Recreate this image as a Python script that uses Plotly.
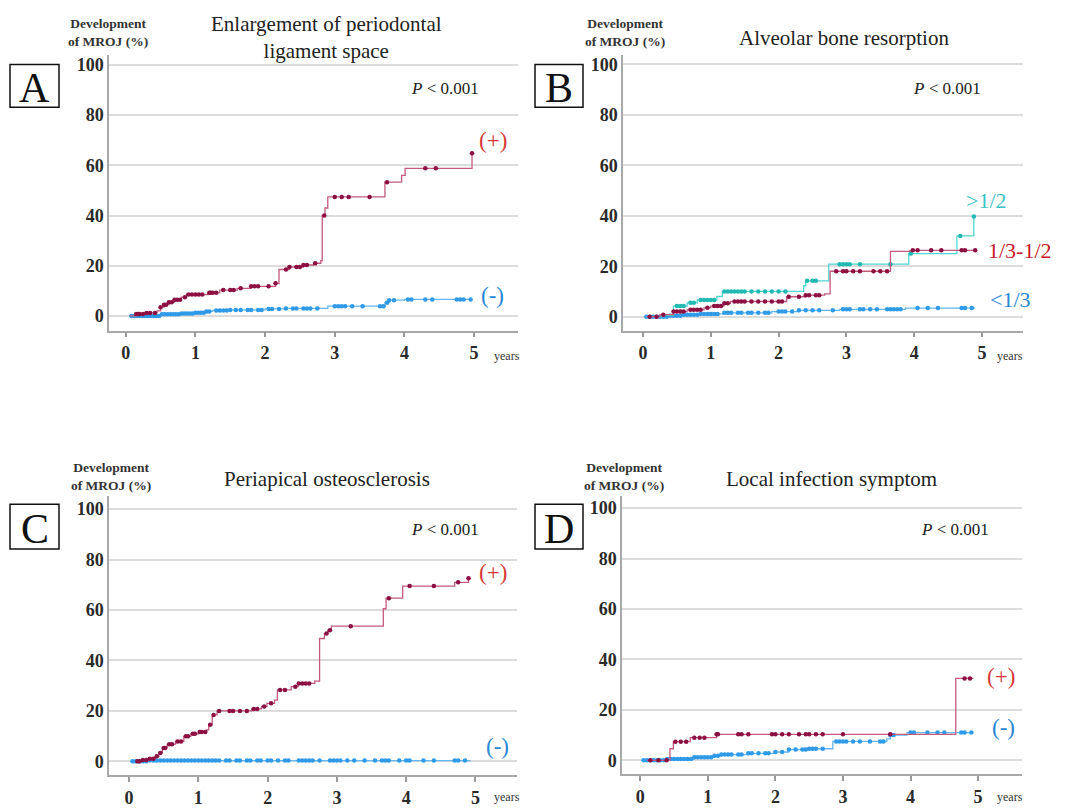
import numpy as np
import plotly.graph_objects as go

W, H = 1069, 808

# ---------------- data (cumulative incidence, %) ----------------
# Panel A: Enlargement of periodontal ligament space
A_pos_t = [0.06, 0.15, 0.3, 0.45, 0.5, 0.55, 0.62, 0.7, 0.8, 0.87, 1.18, 1.35, 1.6, 1.8, 2.15, 2.2, 2.35, 2.55, 2.7, 2.8, 2.82, 2.86, 2.9, 3.72, 3.96, 4.01, 4.97]
A_pos_v = [0, 0.8, 1.2, 2.0, 3.5, 4.5, 5.5, 6.5, 7.5, 8.5, 9.2, 10.3, 11.0, 11.8, 13.0, 18.5, 19.5, 20.3, 21.0, 22.0, 40.0, 43.0, 47.4, 53.3, 56.0, 58.8, 64.8]
A_pos_end = 4.97
A_pos_c = [0.15, 0.18, 0.2, 0.25, 0.3, 0.35, 0.42, 0.5, 0.55, 0.58, 0.62, 0.66, 0.7, 0.74, 0.78, 0.85, 0.9, 0.95, 1.0, 1.05, 1.1, 1.2, 1.22, 1.25, 1.3, 1.4, 1.5, 1.55, 1.65, 1.8, 1.85, 1.9, 2.05, 2.15, 2.3, 2.35, 2.45, 2.5, 2.55, 2.6, 2.72, 2.85, 3.0, 3.1, 3.2, 3.5, 3.75, 4.3, 4.45, 4.97]
A_neg_t = [0.06, 0.5, 0.8, 1.0, 1.15, 1.25, 1.5, 2.0, 2.3, 2.9, 3.72, 3.78, 4.0]
A_neg_v = [0, 0.7, 1.0, 1.3, 1.8, 2.2, 2.4, 2.8, 3.0, 3.9, 5.3, 6.3, 6.6]
A_neg_end = 4.97
A_neg_c = [0.08, 0.12, 0.16, 0.2, 0.24, 0.28, 0.32, 0.36, 0.4, 0.44, 0.48, 0.52, 0.56, 0.6, 0.64, 0.68, 0.72, 0.76, 0.8, 0.84, 0.88, 0.92, 0.96, 1.0, 1.04, 1.08, 1.12, 1.16, 1.2, 1.3, 1.35, 1.4, 1.45, 1.5, 1.58, 1.65, 1.75, 1.8, 1.9, 1.95, 2.05, 2.1, 2.2, 2.3, 2.4, 2.45, 2.55, 2.6, 2.65, 2.75, 3.0, 3.05, 3.1, 3.15, 3.25, 3.4, 3.65, 3.7, 3.75, 3.78, 3.85, 4.05, 4.1, 4.3, 4.4, 4.75, 4.8, 4.85, 4.95]

# Panel B: Alveolar bone resorption
B_hi_t = [0.05, 0.3, 0.45, 0.65, 0.8, 1.09, 1.17, 2.37, 2.4, 2.74, 3.92, 4.63, 4.88]
B_hi_v = [0, 0.5, 4.2, 5.5, 6.6, 8.0, 10.0, 12.3, 14.2, 20.8, 25.0, 32.0, 39.7]
B_hi_end = 4.88
B_hi_c = [0.5, 0.55, 0.6, 0.7, 0.75, 0.85, 0.9, 0.95, 1.0, 1.05, 1.2, 1.25, 1.3, 1.35, 1.4, 1.45, 1.5, 1.6, 1.7, 1.8, 1.9, 2.0, 2.1, 2.42, 2.5, 2.55, 2.9, 2.95, 3.0, 3.05, 3.2, 3.65, 3.95, 4.68, 4.88]
B_mid_t = [0.05, 0.25, 0.45, 0.65, 0.9, 1.0, 1.19, 1.29, 2.12, 2.4, 2.68, 2.76, 3.65, 3.94]
B_mid_v = [0, 0.8, 2.0, 2.7, 3.5, 4.2, 5.3, 6.0, 7.9, 8.5, 9.0, 18.0, 25.9, 26.3]
B_mid_end = 4.9
B_mid_c = [0.1, 0.2, 0.3, 0.45, 0.5, 0.55, 0.6, 0.7, 0.75, 0.8, 0.85, 0.95, 1.05, 1.1, 1.15, 1.2, 1.25, 1.35, 1.4, 1.45, 1.5, 1.6, 1.7, 1.8, 1.9, 2.0, 2.05, 2.15, 2.3, 2.4, 2.45, 2.55, 2.6, 2.85, 2.95, 3.0, 3.1, 3.2, 3.4, 3.5, 3.6, 3.98, 4.05, 4.25, 4.4, 4.7, 4.75, 4.9]
B_lo_t = [0.05, 0.4, 0.6, 0.85, 1.2, 1.9, 2.3, 2.9, 3.87]
B_lo_v = [0, 0.4, 0.8, 1.1, 1.5, 2.0, 2.5, 2.9, 3.4]
B_lo_end = 4.9
B_lo_c = [0.05, 0.1, 0.15, 0.2, 0.25, 0.3, 0.35, 0.4, 0.45, 0.5, 0.55, 0.6, 0.65, 0.7, 0.75, 0.8, 0.85, 0.9, 0.95, 1.0, 1.05, 1.1, 1.2, 1.25, 1.3, 1.4, 1.45, 1.55, 1.6, 1.7, 1.8, 1.85, 2.0, 2.05, 2.1, 2.2, 2.3, 2.4, 2.5, 2.6, 2.8, 2.95, 3.0, 3.05, 3.2, 3.25, 3.35, 3.45, 3.6, 3.65, 3.7, 3.75, 3.8, 4.05, 4.2, 4.35, 4.7, 4.75, 4.85]

# Panel C: Periapical osteosclerosis
C_pos_t = [0.1, 0.2, 0.3, 0.38, 0.43, 0.48, 0.55, 0.67, 0.79, 0.89, 1.0, 1.12, 1.15, 1.2, 1.27, 1.77, 1.91, 1.99, 2.1, 2.14, 2.34, 2.44, 2.68, 2.75, 2.82, 2.87, 2.92, 3.67, 3.71, 3.95, 4.7, 4.9]
C_pos_v = [0, 0.5, 1.0, 2.0, 3.3, 5.3, 6.8, 7.9, 9.9, 10.9, 11.6, 12.5, 14.5, 18.4, 20.0, 20.8, 21.7, 23.0, 24.3, 28.3, 29.6, 30.9, 31.8, 48.7, 50.7, 52.0, 53.6, 60.5, 64.7, 69.5, 71.0, 72.6]
C_pos_end = 4.93
C_pos_c = [0.12, 0.15, 0.2, 0.25, 0.3, 0.35, 0.4, 0.45, 0.5, 0.52, 0.58, 0.62, 0.7, 0.75, 0.82, 0.85, 0.92, 0.95, 1.02, 1.05, 1.1, 1.17, 1.22, 1.3, 1.45, 1.5, 1.6, 1.7, 1.8, 1.85, 1.95, 2.05, 2.18, 2.25, 2.4, 2.45, 2.5, 2.55, 2.6, 2.85, 2.9, 3.2, 3.75, 4.05, 4.4, 4.75, 4.9]
C_neg_t = [0.02, 0.3]
C_neg_v = [0, 0.3]
C_neg_end = 4.93
C_neg_c = [0.05, 0.1, 0.15, 0.2, 0.25, 0.3, 0.35, 0.4, 0.45, 0.5, 0.55, 0.6, 0.65, 0.7, 0.75, 0.8, 0.85, 0.9, 0.95, 1.0, 1.05, 1.1, 1.15, 1.2, 1.25, 1.3, 1.4, 1.45, 1.55, 1.6, 1.7, 1.75, 1.85, 1.9, 2.0, 2.05, 2.15, 2.25, 2.3, 2.45, 2.5, 2.55, 2.6, 2.65, 2.75, 2.9, 2.95, 3.0, 3.05, 3.15, 3.25, 3.4, 3.55, 3.65, 3.7, 3.75, 3.9, 4.0, 4.05, 4.25, 4.4, 4.7, 4.75, 4.85]

# Panel D: Local infection symptom
D_pos_t = [0.1, 0.44, 0.49, 0.74, 1.13, 4.67]
D_pos_v = [0, 4.6, 7.4, 9.0, 10.3, 32.5]
D_pos_end = 4.93
D_pos_c = [0.15, 0.27, 0.39, 0.52, 0.6, 0.68, 0.8, 0.88, 0.95, 1.13, 1.15, 1.45, 1.5, 1.6, 1.95, 2.0, 2.1, 2.2, 2.35, 2.45, 2.5, 2.6, 2.7, 3.0, 3.7, 4.8, 4.88]
D_neg_t = [0.02, 0.4, 0.8, 1.1, 1.2, 1.6, 2.0, 2.2, 2.5, 2.85, 3.65, 3.7, 3.95]
D_neg_v = [0, 0.5, 1.2, 1.8, 2.3, 2.8, 3.3, 4.3, 4.6, 7.5, 8.5, 10.0, 11.0]
D_neg_end = 4.93
D_neg_c = [0.05, 0.1, 0.15, 0.2, 0.25, 0.3, 0.35, 0.4, 0.45, 0.5, 0.55, 0.6, 0.65, 0.7, 0.75, 0.8, 0.85, 0.9, 0.95, 1.0, 1.05, 1.1, 1.15, 1.2, 1.25, 1.3, 1.35, 1.45, 1.5, 1.6, 1.65, 1.75, 1.85, 1.9, 2.0, 2.1, 2.2, 2.3, 2.4, 2.45, 2.5, 2.55, 2.6, 2.7, 2.9, 2.95, 3.0, 3.05, 3.15, 3.25, 3.4, 3.55, 3.6, 3.7, 3.75, 4.0, 4.05, 4.25, 4.4, 4.5, 4.75, 4.8, 4.9]

titles = ["Enlargement of periodontal<br>ligament space", "Alveolar bone resorption",
          "Periapical osteosclerosis", "Local infection symptom"]
letters = ["A", "B", "C", "D"]
y_ticks = [0, 20, 40, 60, 80, 100]
x_ticks = [0, 1, 2, 3, 4, 5]

# ---------------- styles ----------------
RED_L, RED_M = "#c45a7e", "#8c1042"
BLU_L, BLU_M = "#63b8f2", "#2e9ae8"
TEA_L, TEA_M = "#4fd6d2", "#22b9b2"
SERIF = "Liberation Serif"

def px(x):
    return x / W

def py(y):
    return 1 - y / H

fig = go.Figure()

# panel geometry (pixels): left, right, top, bottom, xrange, yrange
panels = [
    dict(l=109, r=518, t=55, b=333, xr=[-0.24, 5.63], yr=[-5.8, 104.1]),
    dict(l=623, r=1023, t=55, b=333, xr=[-0.295, 5.605], yr=[-5.5, 103.9]),
    dict(l=109, r=517, t=500, b=781, xr=[-0.29, 5.60], yr=[-5.5, 105.1]),
    dict(l=622, r=1022, t=500, b=780, xr=[-0.27, 5.65], yr=[-5.5, 104.7]),
]

def add_curve(k, t, v, end, cens, lc, mc):
    xa = "x" if k == 0 else f"x{k+1}"
    ya = "y" if k == 0 else f"y{k+1}"
    xs = list(t) + [end]
    ys = list(v) + [v[-1]]
    fig.add_trace(go.Scatter(x=xs, y=ys, mode="lines", line=dict(color=lc, width=1.3, shape="hv"),
                             xaxis=xa, yaxis=ya, showlegend=False, hoverinfo="skip"))
    ta = np.array(t)
    idx = np.searchsorted(ta, np.array(cens), side="right") - 1
    cy = [v[i] if i >= 0 else 0 for i in idx]
    fig.add_trace(go.Scatter(x=cens, y=cy, mode="markers",
                             marker=dict(color=mc, size=4.5, symbol="circle", line=dict(width=0)),
                             xaxis=xa, yaxis=ya, showlegend=False, hoverinfo="skip"))

add_curve(0, A_neg_t, A_neg_v, A_neg_end, A_neg_c, BLU_L, BLU_M)
add_curve(0, A_pos_t, A_pos_v, A_pos_end, A_pos_c, RED_L, RED_M)
add_curve(1, B_lo_t, B_lo_v, B_lo_end, B_lo_c, BLU_L, BLU_M)
add_curve(1, B_hi_t, B_hi_v, B_hi_end, B_hi_c, TEA_L, TEA_M)
add_curve(1, B_mid_t, B_mid_v, B_mid_end, B_mid_c, RED_L, RED_M)
add_curve(2, C_neg_t, C_neg_v, C_neg_end, C_neg_c, BLU_L, BLU_M)
add_curve(2, C_pos_t, C_pos_v, C_pos_end, C_pos_c, RED_L, RED_M)
add_curve(3, D_neg_t, D_neg_v, D_neg_end, D_neg_c, BLU_L, BLU_M)
add_curve(3, D_pos_t, D_pos_v, D_pos_end, D_pos_c, RED_L, RED_M)

layout = dict(width=W, height=H, margin=dict(l=0, r=0, t=0, b=0),
              paper_bgcolor="white", plot_bgcolor="white", showlegend=False)

tickfont = dict(family=SERIF, size=18, color="#2a2a2a", weight="bold")
for k, p in enumerate(panels):
    sx = "xaxis" if k == 0 else f"xaxis{k+1}"
    sy = "yaxis" if k == 0 else f"yaxis{k+1}"
    xa = "x" if k == 0 else f"x{k+1}"
    ya = "y" if k == 0 else f"y{k+1}"
    layout[sx] = dict(domain=[px(p["l"]), px(p["r"])], range=p["xr"], anchor=ya,
                      tickvals=x_ticks, ticks="outside", ticklen=5, tickwidth=1.5, tickcolor="#999999",
                      showline=True, linecolor="#a8a8a8", linewidth=1.5, showgrid=False, zeroline=False,
                      tickfont=tickfont)
    layout[sy] = dict(domain=[py(p["b"]), py(p["t"])], range=p["yr"], anchor=xa,
                      tickvals=y_ticks, ticks="", showline=True, linecolor="#a8a8a8", linewidth=1.5,
                      showgrid=True, gridcolor="#dcdcdc", gridwidth=1.5, zeroline=False,
                      tickfont=tickfont)

fig.update_layout(**layout)

ann = []
shapes = []

def A(x, y, text, size, color="#222222", xanchor="center", yanchor="middle", family=SERIF):
    ann.append(dict(x=px(x), y=py(y), xref="paper", yref="paper", text=text, showarrow=False,
                    xanchor=xanchor, yanchor=yanchor, font=dict(family=family, size=size, color=color)))

# titles
A(326, 38, titles[0], 21)
A(844, 38, titles[1], 21)
A(327, 483, titles[2], 21)
A(831, 483, titles[3], 21)

# y-axis caption
for (cx, cy) in [(108, 33), (625, 33), (111, 480), (624, 480)]:
    A(cx, cy, "<b>Development<br>of MROJ (%)</b>", 13.5, color="#333333")

# letter boxes
boxes = [(10, 59, 65, 108), (535, 583, 65, 108), (10, 59, 508, 553), (535, 583, 508, 553)]
for (x0, x1, y0, y1), L in zip(boxes, letters):
    shapes.append(dict(type="rect", xref="paper", yref="paper", x0=px(x0), x1=px(x1), y0=py(y1), y1=py(y0),
                       line=dict(color="#111111", width=1.5), fillcolor="rgba(0,0,0,0)"))
    A((x0 + x1) / 2, (y0 + y1) / 2 + 2, L, 42, color="#111111")

# P values
for (cx, cy) in [(445, 89), (947, 89), (445, 533), (955, 533)]:
    A(cx, cy, "<i>P</i> &lt; 0.001", 17, color="#222222")

# years labels
for (cx, cy) in [(507, 359), (1010, 359), (507, 803), (1010, 803)]:
    A(cx, cy, "years", 12, color="#333333")

# curve labels
RED_T, BLU_T, TEA_T = "#d63a3a", "#2a86d4", "#39c4c4"
A(493, 142, "(+)", 23, color=RED_T)
A(492, 298, "(-)", 23, color=BLU_T)
A(986, 202, "&gt;1/2", 22, color=TEA_T)
A(1020, 252, "1/3-1/2", 22, color="#c8182a")
A(1010, 302, "&lt;1/3", 22, color=BLU_T)
A(493, 577, "(+)", 23, color=RED_T)
A(497, 752, "(-)", 23, color=BLU_T)
A(1001, 682, "(+)", 23, color=RED_T)
A(1003, 733, "(-)", 23, color=BLU_T)

fig.update_layout(annotations=ann, shapes=shapes)
fig.write_html("out.html", config={"displayModeBar": False},
               post_script="document.body.style.margin='0px';document.body.style.overflow='hidden';")
